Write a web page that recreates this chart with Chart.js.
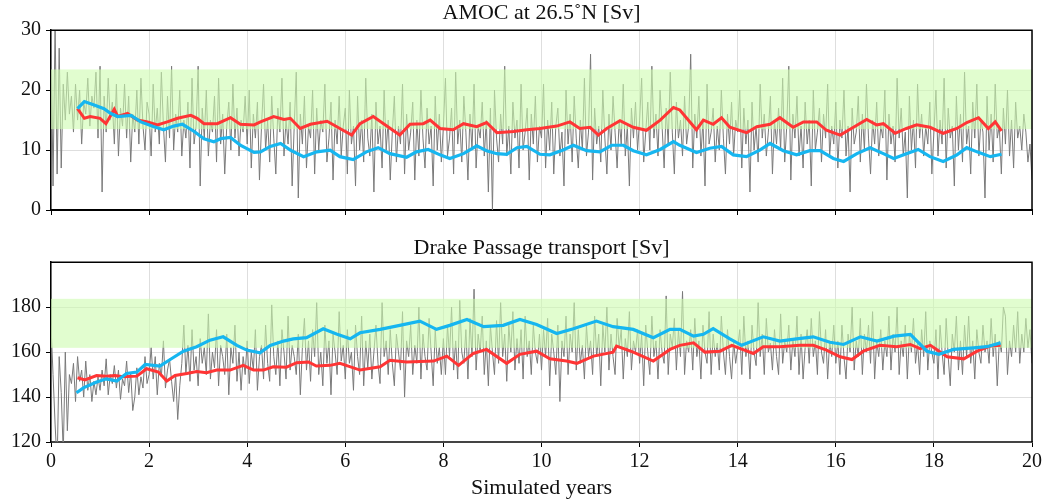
<!DOCTYPE html>
<html lang="en">
<head>
<meta charset="UTF-8">
<title>AMOC and Drake Passage transport</title>
<script src="https://cdn.jsdelivr.net/npm/chart.js"></script>
<style>
  html, body { margin: 0; padding: 0; background: #fff; }
  .panel { position: absolute; left: 0; width: 1045px; }
  #top { top: 0; height: 232px; }
  #bottom { top: 232px; height: 271px; }
</style>
</head>
<body>
<div class="panel" id="top"><canvas id="amocChart" width="1045" height="232"></canvas></div>
<div class="panel" id="bottom"><canvas id="drakeChart" width="1045" height="271"></canvas></div>

<script>
// raw series: 24 samples per simulated year, 0 .. 20
const samplesPerYear = 24;

const amocRaw = [
  30,4,31,6,27,7,21,15,23,16,19,13,21,15,20,11,18,16,22,14,19,17,23,12,
  24,3,19,13,22,15,18,11,21,9,17,14,21,12,19,8,16,13,20,11,22,14,10,18,
  16,9,21,13,17,11,23,14,8,19,12,24,10,16,13,20,9,15,12,18,7,22,11,14,
  24,4,17,12,20,9,15,13,19,8,22,11,16,6,14,18,10,21,12,17,9,15,13,19,
  11,20,7,16,12,18,5,14,21,10,15,8,19,12,6,17,13,22,9,15,11,18,4,14,
  23,2,16,11,19,7,14,12,20,6,17,10,15,13,21,8,12,18,5,15,11,19,9,14,
  17,6,20,11,14,4,19,10,15,8,22,12,9,16,3,18,11,14,7,20,10,15,5,13,
  19,8,14,11,21,6,16,10,13,18,5,15,9,20,12,7,17,11,14,4,19,10,16,8,
  14,22,9,12,17,6,23,11,15,8,19,13,5,16,10,21,7,14,12,18,9,15,3,17,
  0,20,12,8,16,11,24,9,14,6,18,12,15,7,21,10,13,17,5,16,11,19,8,14,
  12,21,7,15,10,18,6,14,17,9,13,4,20,11,16,8,19,12,7,15,10,22,9,13,
  26,5,17,11,14,8,20,12,6,16,10,19,13,7,15,11,21,9,14,4,17,12,18,10,
  15,22,8,13,18,10,24,12,16,9,20,14,7,17,11,23,13,6,18,12,15,9,19,11,
  14,26,7,16,12,19,9,15,4,21,11,13,17,8,14,10,20,12,6,16,11,18,9,15,
  13,20,7,17,11,15,3,18,10,14,8,21,12,16,9,13,19,6,15,11,17,10,22,8,
  14,24,5,16,12,19,9,14,7,18,11,15,4,20,10,13,17,8,16,12,21,9,14,11,
  18,7,15,12,20,9,14,3,17,11,13,19,8,16,10,21,12,6,15,11,18,9,14,12,
  20,5,16,11,14,8,22,12,17,9,13,2,19,10,15,7,21,12,16,9,14,11,18,6,
  13,20,9,15,11,22,7,17,12,14,4,19,10,16,8,23,11,14,6,18,12,21,9,15,
  13,2,19,10,16,8,21,12,14,6,17,11,20,9,15,7,18,12,14,10,16,13,8,11,
  5
];

const amocRedX = [0.54,0.68,0.8,1.0,1.12,1.29,1.36,1.56,1.76,1.97,2.17,2.37,2.58,2.85,2.98,3.12,3.39,3.66,3.86,4.14,4.27,4.54,4.75,4.88,5.08,5.29,5.63,5.89,6.13,6.3,6.57,6.78,7.11,7.32,7.59,7.73,7.93,8.2,8.41,8.68,8.88,9.09,9.43,9.7,9.97,10.31,10.58,10.78,10.99,11.16,11.33,11.6,11.87,12.14,12.42,12.69,12.82,13.16,13.3,13.5,13.67,13.84,14.18,14.39,14.66,14.86,15.13,15.34,15.61,15.81,16.09,16.36,16.63,16.83,16.97,17.21,17.44,17.65,17.92,18.19,18.47,18.67,18.91,19.11,19.25,19.38];
const amocRedY = [16.9,15.3,15.6,15.3,14.4,16.8,15.6,16.1,15,14.7,14.2,14.7,15.3,15.8,15.3,14.4,14.4,15.4,14.3,14.2,14.7,15.6,15.1,15.3,13.6,14.3,14.8,13.6,12.5,14.4,15.6,14.4,12.5,14.3,14.4,15,13.6,13.4,14.4,13.9,14.6,12.9,13.1,13.4,13.6,14,14.7,13.6,13.8,12.5,13.6,14.9,13.8,13.3,15,17.1,16.7,13.4,15,14.3,15.4,13.8,12.9,13.9,14.3,15.4,13.8,14.7,14.7,13.3,12.5,13.8,15.1,14.2,14.4,12.8,13.6,14.2,13.8,12.8,13.6,14.6,15.4,13.6,14.7,13.2];

const amocBlueX = [0.54,0.68,0.88,1.08,1.22,1.36,1.63,1.83,2.1,2.3,2.5,2.68,2.92,3.12,3.32,3.46,3.66,3.86,4.14,4.27,4.47,4.68,4.88,5.15,5.42,5.69,5.89,6.16,6.43,6.67,6.91,7.25,7.45,7.69,7.93,8.13,8.41,8.68,8.88,9.09,9.29,9.5,9.7,9.97,10.17,10.44,10.65,10.92,11.19,11.43,11.67,11.87,12.14,12.42,12.69,12.82,13.16,13.43,13.67,13.91,14.18,14.45,14.66,14.93,15.2,15.47,15.68,15.95,16.16,16.43,16.7,16.97,17.18,17.44,17.68,17.92,18.19,18.47,18.67,18.88,19.15,19.38];
const amocBlueY = [16.9,18.1,17.5,16.9,16.1,15.6,15.8,14.7,13.9,13.4,14,14.3,13.1,11.9,11.4,11.9,12.1,10.8,9.6,9.7,10.6,11.1,10,8.9,9.7,10,8.9,8.4,9.7,10.4,9.4,8.8,9.7,10.1,9.2,8.6,9.4,10.7,9.9,9.4,9.3,10.4,10.6,9.3,9.2,10,10.8,9.9,9.7,10.8,10.8,9.9,9.2,10.1,11.4,10.8,9.6,10.3,10.6,9.2,8.9,10,11.1,9.9,9.2,9.9,9.9,8.6,8.1,9.4,10.4,9.4,8.6,9.4,10.1,8.9,8.1,9.2,10.4,9.7,8.9,9.3];

const amocBand = [13.5, 23.45];

const drakeRaw = [
  172,150,128,110,158,142,115,160,125,150,146,155,138,158,147,152,140,156,143,150,138,147,141,149,
  143,152,145,157,141,150,146,154,144,152,139,148,145,156,142,151,134,140,153,141,149,144,158,146,
  150,162,148,158,141,155,149,165,144,152,157,147,138,150,130,145,155,172,150,163,147,170,152,158,
  145,166,155,162,150,177,148,160,153,170,145,163,158,150,168,141,162,155,172,147,160,143,158,150,
  165,146,160,152,170,143,158,163,148,172,155,147,181,158,150,165,145,170,160,148,176,152,163,158,
  150,168,141,162,175,152,165,147,170,158,182,150,160,145,172,155,165,141,168,160,150,178,156,163,
  148,170,155,160,143,172,158,150,176,145,165,153,168,148,160,172,155,146,182,158,165,150,170,155,
  145,168,160,152,178,140,165,158,172,150,163,155,180,148,168,158,152,175,160,145,170,155,162,150,
  166,150,172,158,180,152,165,148,183,160,155,170,148,175,158,188,152,168,160,176,150,165,145,172,
  160,150,174,155,182,158,168,147,172,160,178,152,166,155,170,148,176,158,165,150,172,160,155,168,
  152,170,158,175,145,168,160,150,172,138,165,158,176,150,168,160,182,152,170,155,163,148,172,158,
  165,150,176,158,168,145,172,160,180,152,168,158,150,175,162,170,148,166,158,178,152,165,160,170,
  155,168,145,172,160,150,176,158,165,148,170,160,155,185,150,168,162,175,152,170,158,187,150,165,
  160,170,152,175,158,165,148,172,160,155,178,150,168,158,164,152,176,160,150,170,158,148,165,155,
  162,170,150,176,158,165,148,172,160,154,182,158,168,150,175,160,164,152,170,158,150,177,155,165,
  160,172,152,166,158,176,150,168,148,162,170,155,175,158,165,150,178,160,155,170,148,165,158,172,
  155,165,150,172,158,148,168,160,180,152,165,158,175,150,168,160,172,155,178,148,165,158,170,152,
  165,158,176,152,168,160,180,150,165,158,172,148,168,160,175,155,164,150,170,158,178,152,165,160,
  155,170,148,172,160,150,175,158,145,168,160,176,152,165,150,172,158,176,155,165,148,170,160,155,
  172,160,165,155,175,158,168,145,165,160,180,176,150,165,158,172,160,178,155,168,160,175,162,170,
  155
];

const drakeRedX = [0.54,0.69,0.93,1.13,1.3,1.47,1.75,1.95,2.19,2.36,2.53,2.77,2.97,3.17,3.38,3.65,3.92,4.13,4.33,4.53,4.8,5.01,5.25,5.41,5.69,5.89,6.3,6.71,6.91,7.25,7.8,8.07,8.31,8.61,8.88,9.29,9.56,9.9,10.17,10.51,10.72,11.06,11.46,11.53,11.87,12.28,12.62,12.82,13.1,13.33,13.64,13.88,14.32,14.52,14.86,15.27,15.54,15.81,16.09,16.33,16.56,16.9,17.24,17.52,17.72,17.93,18.27,18.61,18.88,19.15,19.36];
const drakeRedY = [148.6,147.6,149.6,149.3,149.6,149,149.3,152.6,151.1,147.1,149.6,150.5,151.4,150.8,152,152,154.1,152,152,153.5,153.3,155.3,155.6,153.8,154.1,155,152,153.5,156.4,155.6,156,158.2,154.1,159.4,161.2,155,159,160.4,157,156,155,158.2,160,162.7,160,156,161.2,163,164.1,160,160.4,163,159.4,162.4,162.4,163,163,160.9,157.9,156.7,160.4,163,162.4,163.4,161.5,163,157.9,157,160.4,162.7,163];

const drakeBlueX = [0.52,0.66,0.93,1.13,1.34,1.54,1.75,1.92,2.22,2.43,2.7,2.97,3.24,3.51,3.79,3.99,4.26,4.47,4.74,4.94,5.21,5.55,5.82,6.1,6.3,6.71,7.11,7.52,7.86,8.13,8.48,8.82,9.22,9.56,9.9,10.31,10.65,11.12,11.46,11.87,12.28,12.62,12.82,13.1,13.3,13.5,13.84,14.08,14.52,14.86,15.2,15.54,15.88,16.16,16.5,16.84,17.19,17.52,17.86,18.1,18.4,18.81,19.08,19.36];
const drakeBlueY = [141.9,144.1,146.7,148.1,147.1,150.5,151.1,154.5,153.8,156.7,160.4,162.4,165.3,166.8,163,160.9,159.7,163,164.9,165.9,166.4,170.4,168.1,165.9,168.6,170.1,171.9,173.8,170.1,171.9,174.5,171.3,171.9,174.5,172.3,168.3,170.4,173.8,171.3,170.1,166.4,170.1,170.1,167.1,167.9,170.4,165.9,163,166.8,164.9,165.9,166.8,164.4,163.4,166.8,164.9,167.1,167.9,160.4,159,161.2,161.9,162.4,164.1];

const drakeBand = [161.9, 183.7];

Chart.defaults.font.family = "'Liberation Serif', 'DejaVu Serif', serif";
Chart.defaults.font.size = 20;
Chart.defaults.color = '#111';

const toPoints = (xs, ys) => xs.map((x, i) => ({ x: x, y: ys[i] }));
const rawPoints = ys => ys.map((y, i) => ({ x: i / samplesPerYear, y: y }));

// green reference band, drawn just over the raw series
const bandPlugin = {
  id: 'band',
  afterDatasetDraw(chart, args, opts) {
    if (args.meta.label !== 'raw') return;
    const { ctx, chartArea: a, scales: { y } } = chart;
    const top = y.getPixelForValue(opts.range[1]);
    const bot = y.getPixelForValue(opts.range[0]);
    ctx.save();
    ctx.fillStyle = 'rgba(205,252,175,0.6)';
    ctx.fillRect(a.left, top, a.right - a.left, bot - top);
    ctx.restore();
  }
};

// top and right frame lines
const framePlugin = {
  id: 'frame',
  afterDraw(chart) {
    const { ctx, chartArea: a } = chart;
    ctx.save();
    ctx.strokeStyle = '#000';
    ctx.lineWidth = 1.5;
    ctx.beginPath();
    ctx.moveTo(a.left, a.top);
    ctx.lineTo(a.right, a.top);
    ctx.lineTo(a.right, a.bottom);
    ctx.stroke();
    ctx.restore();
  }
};

function makePanel(id, title, raw, redX, redY, blueX, blueY, band, yMin, yMax, showX, xAxisH, titlePad) {
  return new Chart(document.getElementById(id), {
    type: 'line',
    data: {
      datasets: [
        { label: 'blue', data: toPoints(blueX, blueY), borderColor: '#16b6f0', borderWidth: 3.2, pointRadius: 0 },
        { label: 'red', data: toPoints(redX, redY), borderColor: '#ff3535', borderWidth: 3, pointRadius: 0 },
        { label: 'raw', data: rawPoints(raw), borderColor: '#7a7a7a', borderWidth: 1, pointRadius: 0 }
      ]
    },
    options: {
      responsive: false,
      animation: false,
      devicePixelRatio: 1,
      layout: { padding: { left: 0, right: 13, top: 0, bottom: 0 } },
      plugins: {
        legend: { display: false },
        tooltip: { enabled: false },
        title: { display: true, text: title, fullSize: false, font: { size: 22, weight: 'normal', lineHeight: 1.1 }, color: '#111', padding: titlePad },
        band: { range: band }
      },
      scales: {
        x: {
          type: 'linear', min: 0, max: 20,
          ticks: { stepSize: 2, display: showX, padding: 3, maxRotation: 0 },
          grid: { color: '#dedede', tickLength: 5, tickColor: '#000' },
          border: { color: showX ? '#444' : '#000', width: 2 },
          title: { display: showX, text: 'Simulated years', font: { size: 22 }, padding: { top: 0, bottom: 2 } },
          afterFit: s => { s.height = xAxisH; }
        },
        y: {
          min: yMin, max: yMax,
          ticks: { stepSize: yMax - yMin > 40 ? 20 : 10, padding: 5 },
          grid: { color: '#dedede', tickLength: 5, tickColor: '#000' },
          border: { color: '#000', width: 1.5 },
          afterBuildTicks: s => { s.ticks = s.ticks.filter(t => yMax - yMin < 40 || t.value < yMax); },
          afterFit: s => { s.width = 51; }
        }
      }
    },
    plugins: [bandPlugin, framePlugin]
  });
}

makePanel('amocChart', 'AMOC at 26.5\u02daN [Sv]', amocRaw, amocRedX, amocRedY, amocBlueX, amocBlueY,
  amocBand, 0, 30, false, 22, { top: 1, bottom: 5 });
makePanel('drakeChart', 'Drake Passage transport [Sv]', drakeRaw, drakeRedX, drakeRedY, drakeBlueX, drakeBlueY,
  drakeBand, 120, 200, true, 61, { top: 4, bottom: 2 });
</script>
</body>
</html>
